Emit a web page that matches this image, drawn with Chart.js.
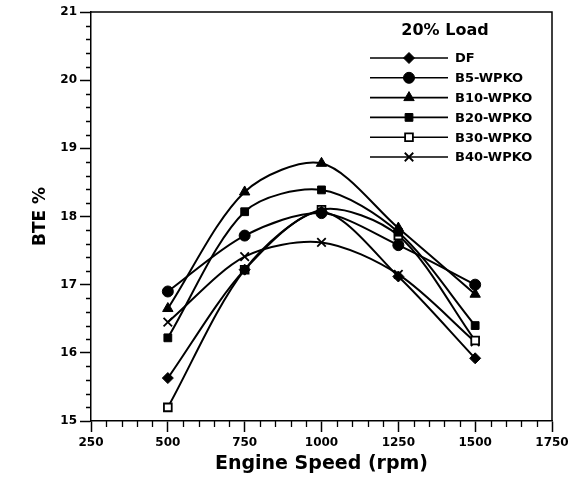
<!DOCTYPE html>
<html>
<head>
<meta charset="utf-8">
<script src="https://cdn.jsdelivr.net/npm/chart.js@4.4.1/dist/chart.umd.min.js"></script>
<style>
  html, body { margin: 0; padding: 0; background: #fff; }
  #wrap { width: 573px; height: 479px; }
</style>
</head>
<body>
<div id="wrap"><canvas id="bte"></canvas></div>
<script>
const FONT = '"DejaVu Sans", "Liberation Sans", Arial, sans-serif';

// engine speed (rpm) and brake thermal efficiency (%) at 20% load
const speeds = [500, 750, 1000, 1250, 1500];
const fuelNames = ["DF", "B5-WPKO", "B10-WPKO", "B20-WPKO", "B30-WPKO", "B40-WPKO"];
const bteDF = [15.63, 17.22, 18.07, 17.12, 15.92];
const bteB5 = [16.9, 17.72, 18.05, 17.58, 17.0];
const bteB10 = [16.65, 18.36, 18.78, 17.83, 16.86];
const bteB20 = [16.22, 18.07, 18.39, 17.77, 16.4];
const bteB30 = [15.2, 17.22, 18.1, 17.72, 16.18];
const bteB40 = [16.45, 17.41, 17.62, 17.15, 16.16];
const xTicks = [250, 500, 750, 1000, 1250, 1500, 1750];
const yTicks = [15, 16, 17, 18, 19, 20, 21];

const allSeries = [bteDF, bteB5, bteB10, bteB20, bteB30, bteB40];
const markerStyles = ["rectRot", "circle", "triangle", "rect", "rect", "crossRot"];
const markerFills = ["#000", "#000", "#000", "#000", "#fff", "#000"];
const markerSizes = [5.5, 5.5, 6, 5.5, 5.5, 6];

const datasets = allSeries.map((vals, i) => ({
  label: fuelNames[i],
  data: vals.map((v, j) => ({ x: speeds[j], y: v })),
  borderColor: "#000",
  borderWidth: 2,
  tension: 0.3,
  pointStyle: markerStyles[i],
  pointRadius: markerSizes[i],
  pointBackgroundColor: markerFills[i],
  pointBorderColor: "#000",
  pointBorderWidth: i === 4 || i === 5 ? 1.8 : 1,
}));

// short minor ticks between the labelled ones, plus the closing frame
const frameAndMinorTicks = {
  id: "frameAndMinorTicks",
  afterDraw(chart) {
    const { ctx, chartArea, scales } = chart;
    const x = scales.x, y = scales.y;
    ctx.save();
    ctx.strokeStyle = "#000";
    ctx.lineWidth = 1.5;
    ctx.beginPath();
    ctx.moveTo(chartArea.left, chartArea.top);
    ctx.lineTo(chartArea.right, chartArea.top);
    ctx.lineTo(chartArea.right, chartArea.bottom);
    ctx.stroke();

    ctx.lineWidth = 1.3;
    ctx.beginPath();
    for (let v = x.min; v <= x.max; v += 50) {
      if (v % 250 === 0) continue;
      const px = Math.round(x.getPixelForValue(v)) + 0.5;
      ctx.moveTo(px, chartArea.bottom);
      ctx.lineTo(px, chartArea.bottom + 6);
    }
    for (let k = 0; k <= 30; k++) {
      if (k % 5 === 0) continue;
      const py = Math.round(y.getPixelForValue(y.min + k * 0.2)) + 0.5;
      ctx.moveTo(chartArea.left, py);
      ctx.lineTo(chartArea.left - 5, py);
    }
    ctx.stroke();
    ctx.restore();
  },
};

// legend box in the upper right of the plot
const loadLegend = {
  id: "loadLegend",
  afterDraw(chart) {
    const { ctx, chartArea } = chart;
    const right = chartArea.right;
    ctx.save();
    ctx.fillStyle = "#000";
    ctx.textBaseline = "middle";
    ctx.textAlign = "center";
    ctx.font = "bold 16px " + FONT;
    ctx.fillText("20% Load", right - 107, chartArea.top + 19);

    ctx.font = "bold 13px " + FONT;
    ctx.textAlign = "left";
    chart.data.datasets.forEach((ds, i) => {
      const rowY = chartArea.top + 46 + i * 19.8;
      ctx.strokeStyle = "#000";
      ctx.lineWidth = 1.6;
      ctx.beginPath();
      ctx.moveTo(right - 182, rowY);
      ctx.lineTo(right - 104, rowY);
      ctx.stroke();
      ctx.fillStyle = ds.pointBackgroundColor;
      ctx.strokeStyle = "#000";
      ctx.lineWidth = ds.pointBorderWidth;
      Chart.helpers.drawPoint(ctx, {
        pointStyle: ds.pointStyle,
        radius: ds.pointRadius,
        rotation: 0,
        borderWidth: ds.pointBorderWidth,
      }, right - 143, rowY);
      ctx.fillStyle = "#000";
      ctx.fillText(ds.label, right - 97, rowY + 1);
    });
    ctx.restore();
  },
};

new Chart(document.getElementById("bte"), {
  type: "line",
  data: { datasets },
  plugins: [frameAndMinorTicks, loadLegend],
  options: {
    responsive: true,
    maintainAspectRatio: false,
    animation: false,
    layout: { padding: { left: 0, right: 21, top: 12, bottom: 0 } },
    plugins: {
      legend: { display: false },
      tooltip: { enabled: false },
    },
    scales: {
      x: {
        type: "linear",
        min: xTicks[0],
        max: xTicks[xTicks.length - 1],
        afterBuildTicks: (scale) => { scale.ticks = xTicks.map((v) => ({ value: v })); },
        afterFit: (scale) => { scale.height = 58; },
        grid: { drawOnChartArea: false, drawTicks: true, tickLength: 11, tickColor: "#000", tickWidth: 1.5 },
        border: { display: true, color: "#000", width: 1.5 },
        ticks: {
          color: "#000",
          padding: 4,
          maxRotation: 0,
          callback: (v) => String(v),
          font: { family: FONT, size: 12, weight: "bold" },
        },
        title: {
          display: true,
          text: "Engine Speed (rpm)",
          color: "#000",
          padding: { top: 0, bottom: 4 },
          font: { family: FONT, size: 19, weight: "bold" },
        },
      },
      y: {
        min: yTicks[0],
        max: yTicks[yTicks.length - 1],
        afterBuildTicks: (scale) => { scale.ticks = yTicks.map((v) => ({ value: v })); },
        afterFit: (scale) => { scale.width = 91; },
        grid: { drawOnChartArea: false, drawTicks: true, tickLength: 11, tickColor: "#000", tickWidth: 1.5 },
        border: { display: true, color: "#000", width: 1.5 },
        ticks: {
          color: "#000",
          padding: 3,
          callback: (v) => String(v),
          font: { family: FONT, size: 12, weight: "bold" },
        },
        title: {
          display: true,
          text: "BTE %",
          color: "#000",
          padding: { top: 30, bottom: 0 },
          font: { family: FONT, size: 17, weight: "bold" },
        },
      },
    },
  },
});
</script>
</body>
</html>
